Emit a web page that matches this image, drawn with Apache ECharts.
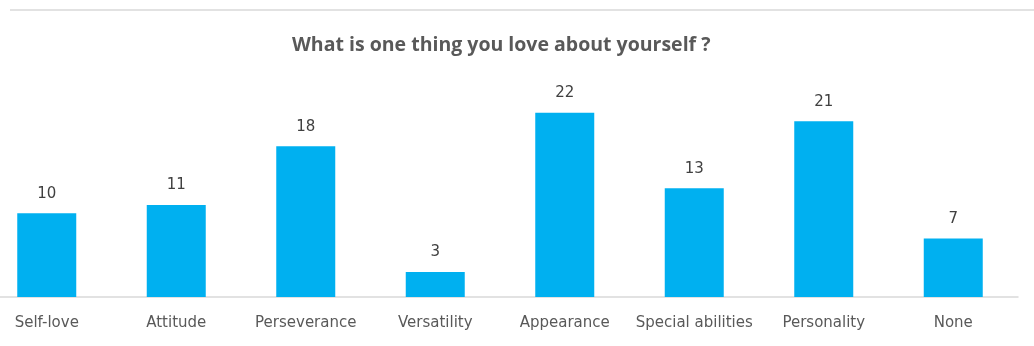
<!DOCTYPE html>
<html><head><meta charset="utf-8">
<script src="https://cdn.jsdelivr.net/npm/echarts@6/dist/echarts.min.js"></script>
<style>html,body{margin:0;padding:0;background:#fff}#c{width:1034px;height:346px}</style>
</head><body><div id="c"></div>
<script>
const titleText = "What is one thing you love about yourself ?";
const categories = ["Self-love","Attitude","Perseverance","Versatility","Appearance","Special abilities","Personality","None"];
const counts = [10,11,18,3,22,13,21,7];

const chart = echarts.init(document.getElementById('c'));
chart.setOption({
  animation:false,
  backgroundColor:'#fff',
  title:{text:titleText,left:287,top:30,
    textStyle:{fontFamily:'Open Sans',fontWeight:'bold',fontSize:19.5,color:'#595959'}},
  graphic:[{type:'line',shape:{x1:10,y1:10,x2:1034,y2:10},style:{stroke:'#d9d9d9',lineWidth:1.5}}],
  grid:{left:-18,right:16,top:96,bottom:49,containLabel:false,outerBoundsMode:'none'},
  xAxis:{type:'category',data:categories,
    axisLine:{lineStyle:{color:'#d9d9d9',width:1.5}},axisTick:{show:false},
    axisLabel:{interval:0,color:'#595959',fontSize:15,fontFamily:'DejaVu Sans',margin:19}},
  yAxis:{type:'value',min:0,max:24,show:false,splitLine:{show:false}},
  series:[{type:'bar',data:counts,barWidth:59,
    itemStyle:{color:'#00B0F0'},
    label:{show:true,position:'top',distance:12,color:'#404040',fontSize:15,fontFamily:'DejaVu Sans'}}]
});
</script></body></html>
